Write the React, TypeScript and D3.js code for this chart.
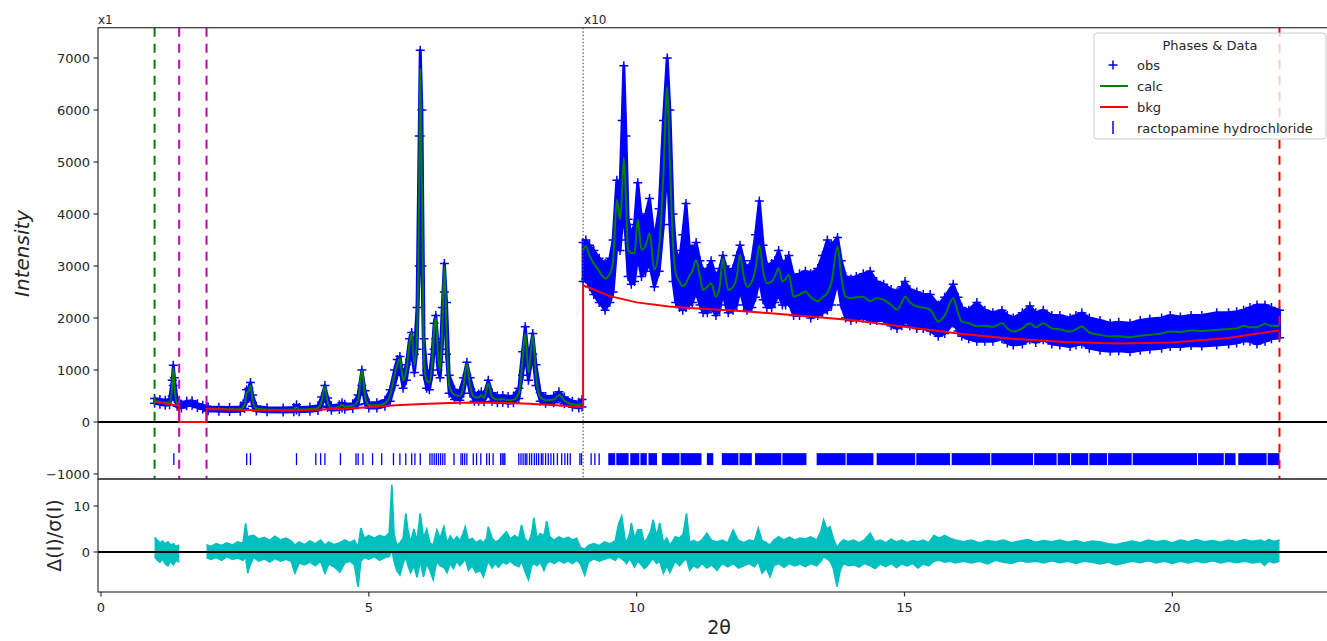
import React from "react";
import * as d3 from "d3";

type Row = [number, number | null, number, number];
type Band = [number, number, number];

// [2θ, calc, obs upper edge, obs lower edge]; plotted at x1 below 9°
const lowAngleProfile: Row[] = [
  [1.0, 400, 450, 360], [1.1, 385, 430, 340], [1.2, 370, 420, 320], [1.28, 380, 430, 330],
  [1.33, 700, 800, 500], [1.35, 1040, 1090, 700], [1.37, 700, 850, 450], [1.42, 360, 420, 300],
  [1.46, 340, 390, 290], [1.5, null, 340, 270], [1.6, null, 400, 310], [1.7, null, 410, 320],
  [1.8, null, 350, 280], [1.9, null, 320, 250], [1.97, 250, 300, 210], [2.0, 255, 290, 215],
  [2.2, 250, 285, 205], [2.4, 245, 280, 200], [2.6, 250, 290, 205], [2.68, 320, 380, 260],
  [2.72, 560, 620, 420], [2.76, 600, 650, 460], [2.79, 700, 760, 520], [2.83, 420, 520, 300],
  [2.9, 260, 300, 210], [3.1, 240, 275, 195], [3.4, 235, 270, 190], [3.6, 240, 280, 195],
  [3.65, 290, 330, 230], [3.7, 240, 280, 195], [3.9, 250, 290, 205], [4.05, 270, 310, 220],
  [4.12, 400, 480, 300], [4.18, 680, 700, 480], [4.23, 380, 460, 280], [4.3, 270, 310, 225],
  [4.45, 290, 330, 240], [4.5, 330, 370, 270], [4.55, 295, 340, 245], [4.7, 310, 350, 260],
  [4.8, 420, 520, 330], [4.87, 990, 1000, 700], [4.93, 500, 600, 350], [5.0, 320, 370, 270],
  [5.15, 320, 370, 270], [5.3, 360, 420, 300], [5.4, 520, 620, 400], [5.48, 900, 1000, 700],
  [5.53, 1100, 1200, 900], [5.58, 1220, 1260, 1000], [5.64, 800, 900, 650], [5.7, 1000, 1100, 800],
  [5.76, 1500, 1600, 1200], [5.8, 1720, 1720, 1300], [5.85, 1100, 1300, 950], [5.9, 1700, 2200, 1400],
  [5.94, 4500, 5500, 3000], [5.96, 6800, 7150, 5500], [5.99, 4500, 6000, 3000], [6.03, 1200, 1600, 900],
  [6.08, 800, 1000, 650], [6.13, 760, 900, 620], [6.18, 1100, 1300, 900], [6.22, 1800, 1900, 1400],
  [6.25, 2000, 2050, 1600], [6.29, 1300, 1500, 1000], [6.33, 1000, 1150, 850], [6.37, 1800, 2200, 1400],
  [6.41, 3000, 3050, 2500], [6.45, 1800, 2300, 1300], [6.5, 700, 900, 550], [6.6, 520, 620, 430],
  [6.7, 500, 600, 420], [6.77, 700, 850, 550], [6.83, 1120, 1150, 900], [6.89, 700, 850, 550],
  [6.97, 480, 560, 400], [7.05, 470, 540, 400], [7.1, 520, 580, 440], [7.15, 460, 530, 390],
  [7.23, 740, 800, 550], [7.3, 480, 560, 400], [7.4, 430, 500, 370], [7.5, 440, 510, 380],
  [7.6, 420, 490, 360], [7.7, 430, 500, 370], [7.8, 550, 650, 450], [7.87, 1200, 1350, 900],
  [7.92, 1700, 1830, 1300], [7.98, 950, 1200, 800], [8.06, 1670, 1700, 1300], [8.12, 900, 1100, 700],
  [8.2, 480, 560, 400], [8.3, 420, 490, 360], [8.45, 430, 500, 370], [8.55, 520, 580, 440],
  [8.65, 410, 480, 350], [8.8, 340, 400, 290], [8.92, 320, 380, 270], [8.98, 350, 430, 290],
];

// same columns, above 9° (already multiplied by 10 as drawn)
const highAngleProfile: Row[] = [
  [9.0, 3300, 3450, 2700], [9.05, 3380, 3500, 2750], [9.12, 3200, 3400, 2600], [9.2, 3050, 3300, 2450],
  [9.3, 2900, 3150, 2300], [9.41, 2760, 3050, 2150], [9.5, 2850, 3150, 2300], [9.56, 3100, 3500, 2500],
  [9.63, 4270, 4650, 3400], [9.69, 3900, 4500, 3300], [9.73, 4500, 5800, 3800], [9.76, 5080, 6850, 4000],
  [9.8, 4300, 5500, 3500], [9.84, 3300, 3900, 2800], [9.9, 3250, 3600, 2650], [9.96, 3250, 3800, 2700],
  [10.02, 3890, 4600, 3200], [10.09, 3310, 3900, 2800], [10.17, 3400, 4000, 2900], [10.24, 3630, 4300, 3050],
  [10.33, 2930, 3500, 2600], [10.42, 3380, 4100, 2900], [10.5, 4800, 5800, 3800], [10.57, 6450, 7000, 5000],
  [10.62, 5000, 6000, 3800], [10.68, 3400, 4000, 2700], [10.73, 2860, 3300, 2300], [10.8, 2700, 3100, 2200],
  [10.86, 2610, 3600, 2150], [10.92, 2670, 4200, 2200], [10.98, 2800, 3400, 2250], [11.04, 2900, 3300, 2300],
  [11.11, 3120, 3450, 2500], [11.18, 2800, 3100, 2250], [11.24, 2540, 2900, 2100], [11.32, 2600, 2950, 2100],
  [11.39, 2670, 3100, 2200], [11.48, 2410, 2800, 2050], [11.55, 2600, 2950, 2150], [11.61, 3150, 3200, 2500],
  [11.66, 2800, 3000, 2250], [11.71, 2540, 2900, 2100], [11.8, 2600, 2950, 2150], [11.87, 2800, 3200, 2250],
  [11.93, 3215, 3400, 2550], [12.0, 2800, 3100, 2250], [12.06, 2600, 2950, 2150], [12.15, 2700, 3100, 2200],
  [12.22, 2950, 3600, 2400], [12.29, 3400, 4250, 2750], [12.36, 2900, 3400, 2350], [12.43, 2670, 3000, 2200],
  [12.52, 2700, 3050, 2200], [12.58, 2800, 3100, 2300], [12.65, 2960, 3300, 2450], [12.72, 2700, 3050, 2250],
  [12.78, 2750, 3100, 2250], [12.84, 2830, 3200, 2300], [12.93, 2410, 2800, 2050], [13.04, 2450, 2850, 2050],
  [13.15, 2510, 2900, 2100], [13.25, 2400, 2850, 2000], [13.38, 2320, 2950, 2050], [13.47, 2400, 3200, 2100],
  [13.56, 2480, 3500, 2150], [13.64, 2700, 3400, 2250], [13.75, 3375, 3550, 2700], [13.82, 2800, 3100, 2250],
  [13.9, 2410, 2800, 2000], [14.0, 2380, 2750, 1950], [14.1, 2400, 2800, 1980], [14.23, 2410, 2850, 2000],
  [14.36, 2320, 2900, 1950], [14.48, 2380, 2700, 1950], [14.61, 2350, 2650, 1950], [14.75, 2250, 2550, 1850],
  [14.86, 2160, 2500, 1800], [14.95, 2300, 2600, 1850], [15.01, 2410, 2700, 1950], [15.1, 2300, 2550, 1850],
  [15.23, 2220, 2500, 1800], [15.35, 2200, 2450, 1800], [15.48, 2160, 2450, 1750], [15.63, 1930, 2250, 1650],
  [15.75, 2050, 2400, 1700], [15.91, 2380, 2650, 1900], [16.0, 2100, 2400, 1750], [16.07, 1930, 2200, 1650],
  [16.2, 1900, 2150, 1600], [16.35, 1840, 2300, 1550], [16.5, 1850, 2150, 1550], [16.65, 1830, 2100, 1550],
  [16.82, 1900, 2150, 1600], [16.92, 1800, 2050, 1520], [17.03, 1740, 2000, 1480], [17.2, 1800, 2100, 1500],
  [17.34, 1900, 2230, 1580], [17.45, 1820, 2100, 1530], [17.59, 1900, 2150, 1580], [17.75, 1800, 2050, 1500],
  [17.9, 1780, 2050, 1480], [18.09, 1740, 2000, 1450], [18.2, 1780, 2050, 1480], [18.31, 1835, 2100, 1500],
  [18.45, 1720, 2000, 1420], [18.65, 1675, 1950, 1380], [18.84, 1645, 1900, 1360], [19.0, 1650, 1920, 1370],
  [19.21, 1630, 1900, 1350], [19.4, 1660, 1950, 1380], [19.58, 1675, 1980, 1400], [19.8, 1700, 2000, 1420],
  [19.96, 1740, 2050, 1450], [20.15, 1730, 2020, 1450], [20.35, 1760, 2050, 1470], [20.55, 1750, 2050, 1460],
  [20.83, 1770, 2100, 1480], [21.05, 1790, 2100, 1500], [21.2, 1800, 2120, 1520], [21.33, 1848, 2150, 1560],
  [21.45, 1820, 2200, 1550], [21.58, 1823, 2250, 1500], [21.73, 1887, 2250, 1550], [21.85, 1850, 2200, 1600],
  [22.0, 1848, 2150, 1620],
];

const bkgTheta = [1.0, 1.46, 1.46, 1.97, 1.97, 2.5, 3.0, 3.5, 4.0, 4.5, 5.0, 5.5, 6.0, 6.5, 7.0, 7.5, 8.0, 8.5, 9.0,
  9.0, 9.5, 10.0, 10.6, 11.0, 12.0, 12.5, 13.0, 14.0, 15.0, 16.0, 17.0, 18.0, 19.0, 20.0, 21.0, 22.0];
const bkgValue = [390, 310, 0, 0, 250, 235, 225, 222, 235, 255, 285, 320, 345, 365, 375, 370, 350, 320, 285,
  2630, 2420, 2300, 2220, 2190, 2130, 2090, 2050, 1960, 1830, 1700, 1600, 1540, 1510, 1530, 1610, 1760];

// Δ(I)/σ(I): [2θ, upper, lower]
const residualBeforeGap: Band[] = [
  [1.0, 3.2, -1.0], [1.05, 2.6, -1.8], [1.1, 2.0, -2.2], [1.15, 2.4, -1.5], [1.2, 1.8, -2.6],
  [1.25, 2.2, -3.0], [1.3, 1.5, -2.0], [1.35, 1.8, -2.8], [1.4, 1.2, -1.8], [1.46, 1.5, -2.2],
];
const residualAfterGap: Band[] = [
  [1.97, 1.6, -1.2], [2.05, 1.2, -1.6], [2.15, 1.8, -1.2], [2.25, 1.4, -1.8], [2.35, 2.0, -1.0],
  [2.45, 1.5, -1.6], [2.55, 2.2, -1.3], [2.65, 1.9, -1.8], [2.7, 6.2, -1.0], [2.74, 3.0, -4.6],
  [2.78, 3.5, -3.0], [2.85, 3.6, -1.2], [2.95, 2.8, -2.0], [3.05, 3.2, -1.5], [3.15, 2.5, -2.2],
  [3.25, 3.4, -1.4], [3.35, 2.6, -2.0], [3.45, 3.0, -1.6], [3.55, 2.4, -2.0], [3.62, 1.5, -4.6],
  [3.7, 2.2, -2.4], [3.8, 1.6, -2.8], [3.9, 2.4, -2.2], [4.0, 1.8, -3.0], [4.1, 2.6, -2.0],
  [4.18, 1.5, -4.6], [4.25, 2.2, -2.6], [4.35, 1.6, -3.2], [4.46, 2.0, -4.4], [4.55, 2.6, -2.4],
  [4.65, 2.0, -2.0], [4.73, 2.6, -2.8], [4.8, 1.0, -7.6], [4.85, 5.2, -2.0], [4.92, 3.0, -1.2],
  [5.0, 3.6, -1.6], [5.1, 3.0, -1.0], [5.2, 3.6, -1.8], [5.3, 3.2, -1.2], [5.38, 4.2, -1.0],
  [5.43, 14.6, 0.5], [5.47, 4.0, -2.0], [5.52, 1.5, -4.0], [5.58, 2.0, -5.0], [5.64, 3.0, -2.5],
  [5.69, 8.4, -1.0], [5.73, 4.8, -3.0], [5.78, 2.0, -4.5], [5.84, 5.0, -3.0], [5.9, 2.5, -5.5],
  [5.96, 8.4, -2.0], [6.02, 3.0, -5.4], [6.08, 5.0, -2.5], [6.14, 2.0, -4.0], [6.2, 1.5, -6.0],
  [6.27, 4.8, -2.0], [6.33, 3.0, -3.0], [6.4, 5.5, -3.3], [6.46, 2.0, -4.5], [6.52, 3.5, -2.5],
  [6.58, 2.4, -3.6], [6.64, 3.3, -2.0], [6.7, 2.5, -3.0], [6.76, 4.0, -2.2], [6.8, 5.5, -1.5],
  [6.86, 2.5, -4.0], [6.93, 3.0, -3.0], [7.0, 2.0, -4.5], [7.08, 2.6, -4.0], [7.14, 2.0, -5.4],
  [7.2, 3.0, -3.0], [7.23, 5.5, -2.0], [7.3, 3.0, -3.5], [7.36, 2.2, -2.5], [7.42, 2.5, -3.3],
  [7.5, 3.5, -2.2], [7.57, 4.4, -2.6], [7.64, 2.8, -2.0], [7.72, 3.6, -2.8], [7.8, 3.0, -3.2],
  [7.85, 5.9, -2.0], [7.91, 3.0, -4.0], [7.98, 2.0, -6.0], [8.04, 4.0, -3.0], [8.08, 7.4, -2.5],
  [8.14, 3.0, -3.0], [8.2, 4.0, -2.2], [8.27, 3.5, -4.0], [8.32, 6.7, -2.5], [8.38, 3.3, -2.0],
  [8.46, 2.6, -2.5], [8.55, 3.3, -1.8], [8.64, 2.8, -2.4], [8.72, 3.2, -1.9], [8.8, 2.6, -2.5],
  [8.88, 3.0, -1.8], [8.95, 1.0, -2.6], [9.03, 0.6, -5.0], [9.1, 1.4, -2.2], [9.2, 1.8, -1.5],
  [9.3, 1.4, -2.0], [9.4, 2.2, -1.6], [9.5, 1.8, -1.2], [9.6, 2.4, -1.8], [9.66, 6.0, -1.0],
  [9.72, 7.8, -1.5], [9.78, 3.0, -2.0], [9.81, 2.0, -2.5], [9.87, 4.0, -1.5], [9.9, 6.3, -2.0],
  [9.96, 3.0, -3.3], [10.02, 4.8, -2.0], [10.09, 4.8, -2.8], [10.14, 2.0, -3.6], [10.2, 3.0, -3.0],
  [10.26, 4.5, -2.0], [10.31, 7.0, -1.5], [10.37, 3.5, -2.5], [10.43, 6.3, -2.0], [10.5, 2.0, -4.6],
  [10.56, 3.0, -3.0], [10.62, 1.5, -4.5], [10.68, 2.5, -3.0], [10.72, 3.3, -2.0], [10.8, 3.0, -3.0],
  [10.87, 4.0, -2.0], [10.93, 8.4, -1.5], [10.99, 2.0, -4.0], [11.06, 2.5, -3.0], [11.14, 2.0, -3.5],
  [11.22, 2.6, -2.5], [11.31, 4.1, -3.5], [11.4, 2.5, -2.8], [11.5, 2.2, -4.0], [11.6, 2.6, -2.5],
  [11.7, 2.0, -3.2], [11.8, 4.8, -2.5], [11.9, 2.5, -3.5], [12.0, 2.0, -3.0], [12.1, 2.6, -2.5],
  [12.2, 2.4, -3.2], [12.27, 5.2, -2.0], [12.34, 2.5, -4.6], [12.42, 2.0, -3.5], [12.49, 1.5, -5.4],
  [12.56, 2.6, -3.0], [12.65, 3.3, -2.5], [12.75, 2.6, -3.3], [12.85, 3.2, -2.5], [12.95, 2.6, -3.0],
  [13.05, 3.0, -2.6], [13.15, 2.8, -3.2], [13.25, 3.3, -2.5], [13.36, 2.6, -3.0], [13.44, 4.5, -2.0],
  [13.49, 7.0, -1.0], [13.55, 5.0, -1.5], [13.61, 5.5, -2.0], [13.67, 3.0, -3.5], [13.74, 1.0, -7.5],
  [13.8, 2.0, -4.0], [13.86, 2.6, -2.5], [13.95, 2.2, -3.0], [14.05, 2.6, -2.8], [14.15, 2.0, -3.3],
  [14.25, 2.6, -2.5], [14.36, 4.1, -3.0], [14.45, 2.2, -3.6], [14.55, 2.6, -2.6], [14.65, 2.0, -3.2],
  [14.75, 2.8, -2.5], [14.85, 2.2, -3.4], [14.95, 2.6, -2.6], [15.05, 2.0, -3.0], [15.15, 2.5, -2.5],
  [15.25, 2.2, -3.5], [15.35, 2.6, -2.6], [15.45, 2.0, -3.0], [15.55, 3.6, -2.0], [15.65, 3.0, -1.8],
  [15.75, 3.6, -2.2], [15.85, 3.0, -2.0], [15.95, 2.6, -2.4], [16.1, 2.2, -2.0], [16.25, 2.6, -2.4],
  [16.4, 2.0, -2.0], [16.55, 2.5, -2.6], [16.7, 2.2, -1.8], [16.85, 2.6, -2.2], [17.0, 2.0, -2.5],
  [17.15, 2.4, -1.9], [17.3, 2.7, -2.2], [17.45, 2.1, -2.0], [17.6, 2.5, -2.4], [17.75, 2.2, -1.9],
  [17.9, 2.6, -2.3], [18.05, 2.1, -2.0], [18.2, 2.5, -2.5], [18.35, 2.0, -2.0], [18.5, 2.4, -2.2],
  [18.65, 2.2, -2.6], [18.8, 1.8, -2.2], [18.95, 1.6, -2.8], [19.1, 2.0, -2.4], [19.25, 2.4, -2.0],
  [19.4, 2.0, -2.3], [19.55, 2.6, -1.9], [19.7, 2.2, -2.4], [19.85, 2.5, -2.0], [20.0, 2.0, -2.5],
  [20.15, 2.6, -2.0], [20.3, 2.2, -2.4], [20.45, 2.7, -2.0], [20.6, 2.2, -2.3], [20.75, 2.5, -1.9],
  [20.9, 2.1, -2.4], [21.05, 2.6, -2.0], [21.2, 2.2, -2.3], [21.35, 2.7, -2.0], [21.5, 2.3, -2.4],
  [21.65, 2.6, -2.1], [21.72, 2.2, -2.9], [21.8, 2.7, -2.0], [21.9, 2.3, -2.4], [22.0, 2.6, -2.0],
];

// reflection positions of ractopamine hydrochloride
const reflectionTicks = [1.36, 2.72, 2.79, 3.65, 4.01, 4.1, 4.18, 4.47, 4.76, 4.8, 4.89, 5.07, 5.24, 5.46,
  5.58, 5.69, 5.8, 5.86, 5.96, 6.14, 6.18, 6.22, 6.26, 6.3, 6.34, 6.38, 6.42, 6.59, 6.72, 6.75, 6.79, 6.83,
  6.95, 7.01, 7.09, 7.2, 7.25, 7.32, 7.46, 7.49, 7.52, 7.54, 7.8, 7.84, 7.88, 7.92, 7.95, 8.0, 8.04, 8.09,
  8.13, 8.17, 8.22, 8.25, 8.3, 8.35, 8.4, 8.45, 8.52, 8.6, 8.66, 8.71, 8.76, 8.94, 8.97, 9.15, 9.22, 9.3];
// above ~9.5° the reflections merge into solid runs
const reflectionRuns: [number, number][] = [
  [9.47, 9.6], [9.62, 9.85], [9.88, 10.05], [10.07, 10.19], [10.22, 10.38], [10.47, 10.8], [10.82, 11.21],
  [11.31, 11.43], [11.59, 11.9], [11.92, 12.15], [12.21, 12.7], [12.72, 13.17], [13.36, 13.9], [13.92, 14.42],
  [14.48, 15.2], [15.22, 15.85], [15.88, 16.6], [16.62, 17.4], [17.42, 17.84], [17.86, 18.09], [18.11, 18.43],
  [18.45, 18.78], [18.8, 19.24], [19.26, 20.46], [20.48, 20.96], [20.98, 21.18], [21.23, 21.76], [21.78, 22.0],
];

const rangeLimits = [1.0, 22.0];
const excludedLimits = [1.46, 1.97];
const scaleBreak = 9.0;
const scaleLabels = ["x1", "x10"];

const intensityTicks = [-1000, 0, 1000, 2000, 3000, 4000, 5000, 6000, 7000];
const residualTicks = [0, 10];
const thetaTicks = [0, 5, 10, 15, 20];
const legendLabels = ["obs", "calc", "bkg", "ractopamine hydrochloride"];

const BLUE = "#0000ff";
const GREEN = "#008000";
const RED = "#ff0000";
const MAGENTA = "#bf00bf";
const CYAN = "#00bfbf";
const INK = "#262626";

export default function App() {
  const left = 98, right = 1340, top = 27.7, mid = 479, bottom = 592;
  const x = d3.scaleLinear().domain([-0.056, 23.13]).range([left, right]);
  const yTop = d3.scaleLinear().domain([-1097, 7583]).range([mid, top]);
  const yBot = d3.scaleLinear().domain([-8.7, 15.87]).range([bottom, mid]);

  const obsArea = d3.area<Row>().x((d) => x(d[0])).y0((d) => yTop(d[3])).y1((d) => yTop(d[2]));
  const calcLine = d3.line<Row>()
    .defined((d) => d[1] !== null)
    .curve(d3.curveMonotoneX)
    .x((d) => x(d[0]))
    .y((d) => yTop(d[1] as number));
  const bkgLine = d3.line<number>().x((_, i) => x(bkgTheta[i])).y((d) => yTop(d));
  const resArea = d3.area<Band>().x((d) => x(d[0])).y0((d) => yBot(d[2])).y1((d) => yBot(d[1]));
  const resUpper = d3.line<Band>().x((d) => x(d[0])).y((d) => yBot(d[1]));
  const resLower = d3.line<Band>().x((d) => x(d[0])).y((d) => yBot(d[2]));

  const crosses = [...lowAngleProfile, ...highAngleProfile]
    .flatMap((d) => [[x(d[0]), yTop(d[2])], [x(d[0]), yTop(d[3])]])
    .map(([px, py]) => `M${px - 4.5},${py}h9M${px},${py - 4.5}v9`)
    .join("");

  const tickY0 = yTop(-600), tickY1 = yTop(-830);

  return (
    <svg width={1327} height={641} style={{ position: "absolute", left: 0, top: 0, background: "#fff" }} fontFamily="DejaVu Sans">
      <defs>
        <clipPath id="topClip"><rect x={left} y={top} width={right - left} height={mid - top} /></clipPath>
        <clipPath id="botClip"><rect x={left} y={mid} width={right - left} height={bottom - mid} /></clipPath>
      </defs>

      <line x1={left} x2={right} y1={yTop(0)} y2={yTop(0)} stroke="#000" strokeWidth={2} />

      <g clipPath="url(#topClip)">
        {[lowAngleProfile, highAngleProfile].map((seg, i) => (
          <path key={i} d={obsArea(seg) ?? ""} fill={BLUE} stroke={BLUE} strokeWidth={3} strokeLinejoin="round" />
        ))}
        <path d={crosses} stroke={BLUE} strokeWidth={1.5} fill="none" />
        {[lowAngleProfile, highAngleProfile].map((seg, i) => (
          <path key={i} d={calcLine(seg) ?? ""} fill="none" stroke={GREEN} strokeWidth={2} />
        ))}
        <path d={bkgLine(bkgValue) ?? ""} fill="none" stroke={RED} strokeWidth={2} />

        {reflectionTicks.map((t, i) => (
          <line key={i} x1={x(t)} x2={x(t)} y1={tickY0} y2={tickY1} stroke={BLUE} strokeWidth={1.3} />
        ))}
        {reflectionRuns.map(([a, b], i) => (
          <rect key={i} x={x(a)} y={tickY0} width={x(b) - x(a)} height={tickY1 - tickY0} fill={BLUE} />
        ))}

        <line x1={x(rangeLimits[0])} x2={x(rangeLimits[0])} y1={top} y2={mid} stroke={GREEN} strokeWidth={2} strokeDasharray="9,7" />
        {excludedLimits.map((t, i) => (
          <line key={i} x1={x(t)} x2={x(t)} y1={top} y2={mid} stroke={MAGENTA} strokeWidth={2} strokeDasharray="9,7" />
        ))}
        <line x1={x(rangeLimits[1])} x2={x(rangeLimits[1])} y1={top} y2={mid} stroke={RED} strokeWidth={2} strokeDasharray="9,7" />
        <line x1={x(scaleBreak)} x2={x(scaleBreak)} y1={top} y2={mid} stroke="#555" strokeWidth={1.2} strokeDasharray="1.5,2" />
      </g>

      <g clipPath="url(#botClip)">
        {[residualBeforeGap, residualAfterGap].map((seg, i) => (
          <g key={i}>
            <path d={resArea(seg) ?? ""} fill={CYAN} />
            <path d={resUpper(seg) ?? ""} fill="none" stroke={CYAN} strokeWidth={1.6} />
            <path d={resLower(seg) ?? ""} fill="none" stroke={CYAN} strokeWidth={1.6} />
          </g>
        ))}
        <line x1={left} x2={right} y1={yBot(0)} y2={yBot(0)} stroke="#000" strokeWidth={2} />
      </g>

      <rect x={left} y={top} width={right - left} height={mid - top} fill="none" stroke="#333" strokeWidth={1.2} />
      <rect x={left} y={mid} width={right - left} height={bottom - mid} fill="none" stroke="#333" strokeWidth={1.2} />

      <text x={x(0) - 3} y={24} fontSize={12} fill={INK}>{scaleLabels[0]}</text>
      <text x={x(scaleBreak) + 1} y={24} fontSize={12} fill={INK}>{scaleLabels[1]}</text>

      {intensityTicks.map((v) => (
        <g key={v} transform={`translate(${left},${yTop(v)})`}>
          <line x1={-4.5} x2={0} stroke="#333" strokeWidth={1.2} />
          <text x={-8} dy="0.35em" textAnchor="end" fontSize={13} fill={INK}>{v < 0 ? `\u2212${-v}` : v}</text>
        </g>
      ))}
      {residualTicks.map((v) => (
        <g key={v} transform={`translate(${left},${yBot(v)})`}>
          <line x1={-4.5} x2={0} stroke="#333" strokeWidth={1.2} />
          <text x={-8} dy="0.35em" textAnchor="end" fontSize={13} fill={INK}>{v}</text>
        </g>
      ))}

      {thetaTicks.map((v) => (
        <g key={v} transform={`translate(${x(v)},${bottom})`}>
          <line y1={0} y2={4.5} stroke="#333" strokeWidth={1.2} />
          <text y={20} textAnchor="middle" fontSize={13} fill={INK}>{v}</text>
        </g>
      ))}

      <text x={(left + right) / 2} y={634} textAnchor="middle" fontSize={19} fill={INK}>2θ</text>
      <text transform={`translate(29,${(top + mid) / 2}) rotate(-90)`} textAnchor="middle" fontSize={20} fontStyle="italic" fill={INK}>Intensity</text>
      <text transform={`translate(61,${(mid + bottom) / 2}) rotate(-90)`} textAnchor="middle" fontSize={19} fill={INK}>Δ(I)/σ(I)</text>

      <g>
        <rect x={1094} y={33} width={232} height={106} rx={3} fill="#fff" fillOpacity={0.8} stroke="#ccc" strokeWidth={1} />
        <text x={1210} y={50} textAnchor="middle" fontSize={13} fill={INK}>Phases &amp; Data</text>
        <path d="M1108.5,65h9M1113,60.5v9" stroke={BLUE} strokeWidth={1.5} />
        <line x1={1100} x2={1128} y1={86} y2={86} stroke={GREEN} strokeWidth={2} />
        <line x1={1100} x2={1128} y1={107} y2={107} stroke={RED} strokeWidth={2} />
        <line x1={1113} x2={1113} y1={121} y2={134} stroke={BLUE} strokeWidth={1.5} />
        {legendLabels.map((label, i) => (
          <text key={label} x={1137} y={69.5 + i * 21} fontSize={13} fill={INK}>{label}</text>
        ))}
      </g>
    </svg>
  );
}
